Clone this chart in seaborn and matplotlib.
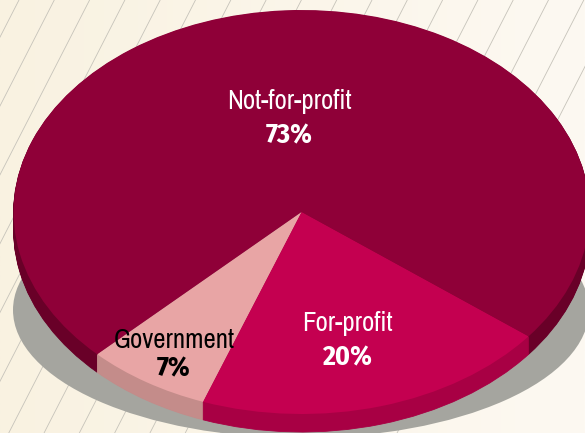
import numpy as np
import matplotlib
matplotlib.use("Agg")
import matplotlib.pyplot as plt
from matplotlib.patches import Ellipse
from matplotlib.colors import LinearSegmentedColormap
import seaborn as sns

categories = ["Not-for-profit", "Government", "For-profit"]
values = [73, 7, 20]
value_labels = ["73%", "7%", "20%"]

top_colors = sns.color_palette(["#8f0038", "#e8a5a5", "#c40050"])
side_colors = sns.color_palette(["#690028", "#c48c8a", "#a80044"])
label_colors = ["white", "black", "white"]
label_px = [(289, 102, 136), (174, 341, 369), (347, 323, 358)]

W, H = 585, 433
CX, CY, RX, RY = 301.6, 212, 288, 202
DEPTH = 18

sns.set_theme(style="white")
plt.rcParams["font.family"] = ["Archivo Narrow", "Liberation Sans", "DejaVu Sans"]
BOLD_FONT = ["Fira Sans Condensed", "Liberation Sans", "DejaVu Sans"]

fig = plt.figure(figsize=(W / 100, H / 100), dpi=100)
ax = fig.add_axes([0, 0, 1, 1])


def dx(px):
    return (px - CX) / RX


def dy(py):
    return (CY - py) / RY


extent = (dx(0), dx(W), dy(H), dy(0))

# Paper background and its diagonal hairlines
cmap = LinearSegmentedColormap.from_list("paper", ["#f9f2e1", "#fdf9f2"])
ax.imshow(np.linspace(0, 1, 256)[None, :], extent=extent, cmap=cmap,
          aspect="auto", zorder=0)
for x0 in np.arange(19 - 35.3 * 7, W + 40, 35.3):
    ax.plot([dx(x0), dx(x0 - H / 1.95)], [dy(0), dy(H)], color="#c6c3ba",
            lw=0.6, zorder=1)

# Drop shadow
ax.add_patch(Ellipse((dx(301), dy(310)), 2 * 288 / RX, 2 * 128 / RY,
                     facecolor="#a5a59f", edgecolor="none", zorder=2))

# Extruded side made of stacked pies, then the top face
for off in range(DEPTH, 0, -1):
    wedges, _ = ax.pie(values, colors=side_colors, startangle=-38, radius=1,
                       center=(0, -off / RY),
                       wedgeprops=dict(linewidth=0.6, edgecolor="none"))
    for w, c in zip(wedges, side_colors):
        w.set_edgecolor(c)
        w.set_zorder(3)
wedges, _ = ax.pie(values, colors=top_colors, startangle=-38, radius=1,
                   center=(0, 0), wedgeprops=dict(linewidth=0))
for w in wedges:
    w.set_zorder(4)

ax.set_aspect("auto")
ax.set_xlim(extent[0], extent[1])
ax.set_ylim(extent[2], extent[3])
ax.axis("off")

for name, val, col, (x, y1, y2) in zip(categories, value_labels, label_colors, label_px):
    ax.text(dx(x), dy(y1), name, color=col, fontsize=19.3, ha="center",
            va="center", zorder=5)
    ax.text(dx(x), dy(y2), val, color=col, fontsize=20, fontweight="bold",
            family=BOLD_FONT, ha="center", va="center", zorder=5)

fig.savefig("out.png", dpi=100)
